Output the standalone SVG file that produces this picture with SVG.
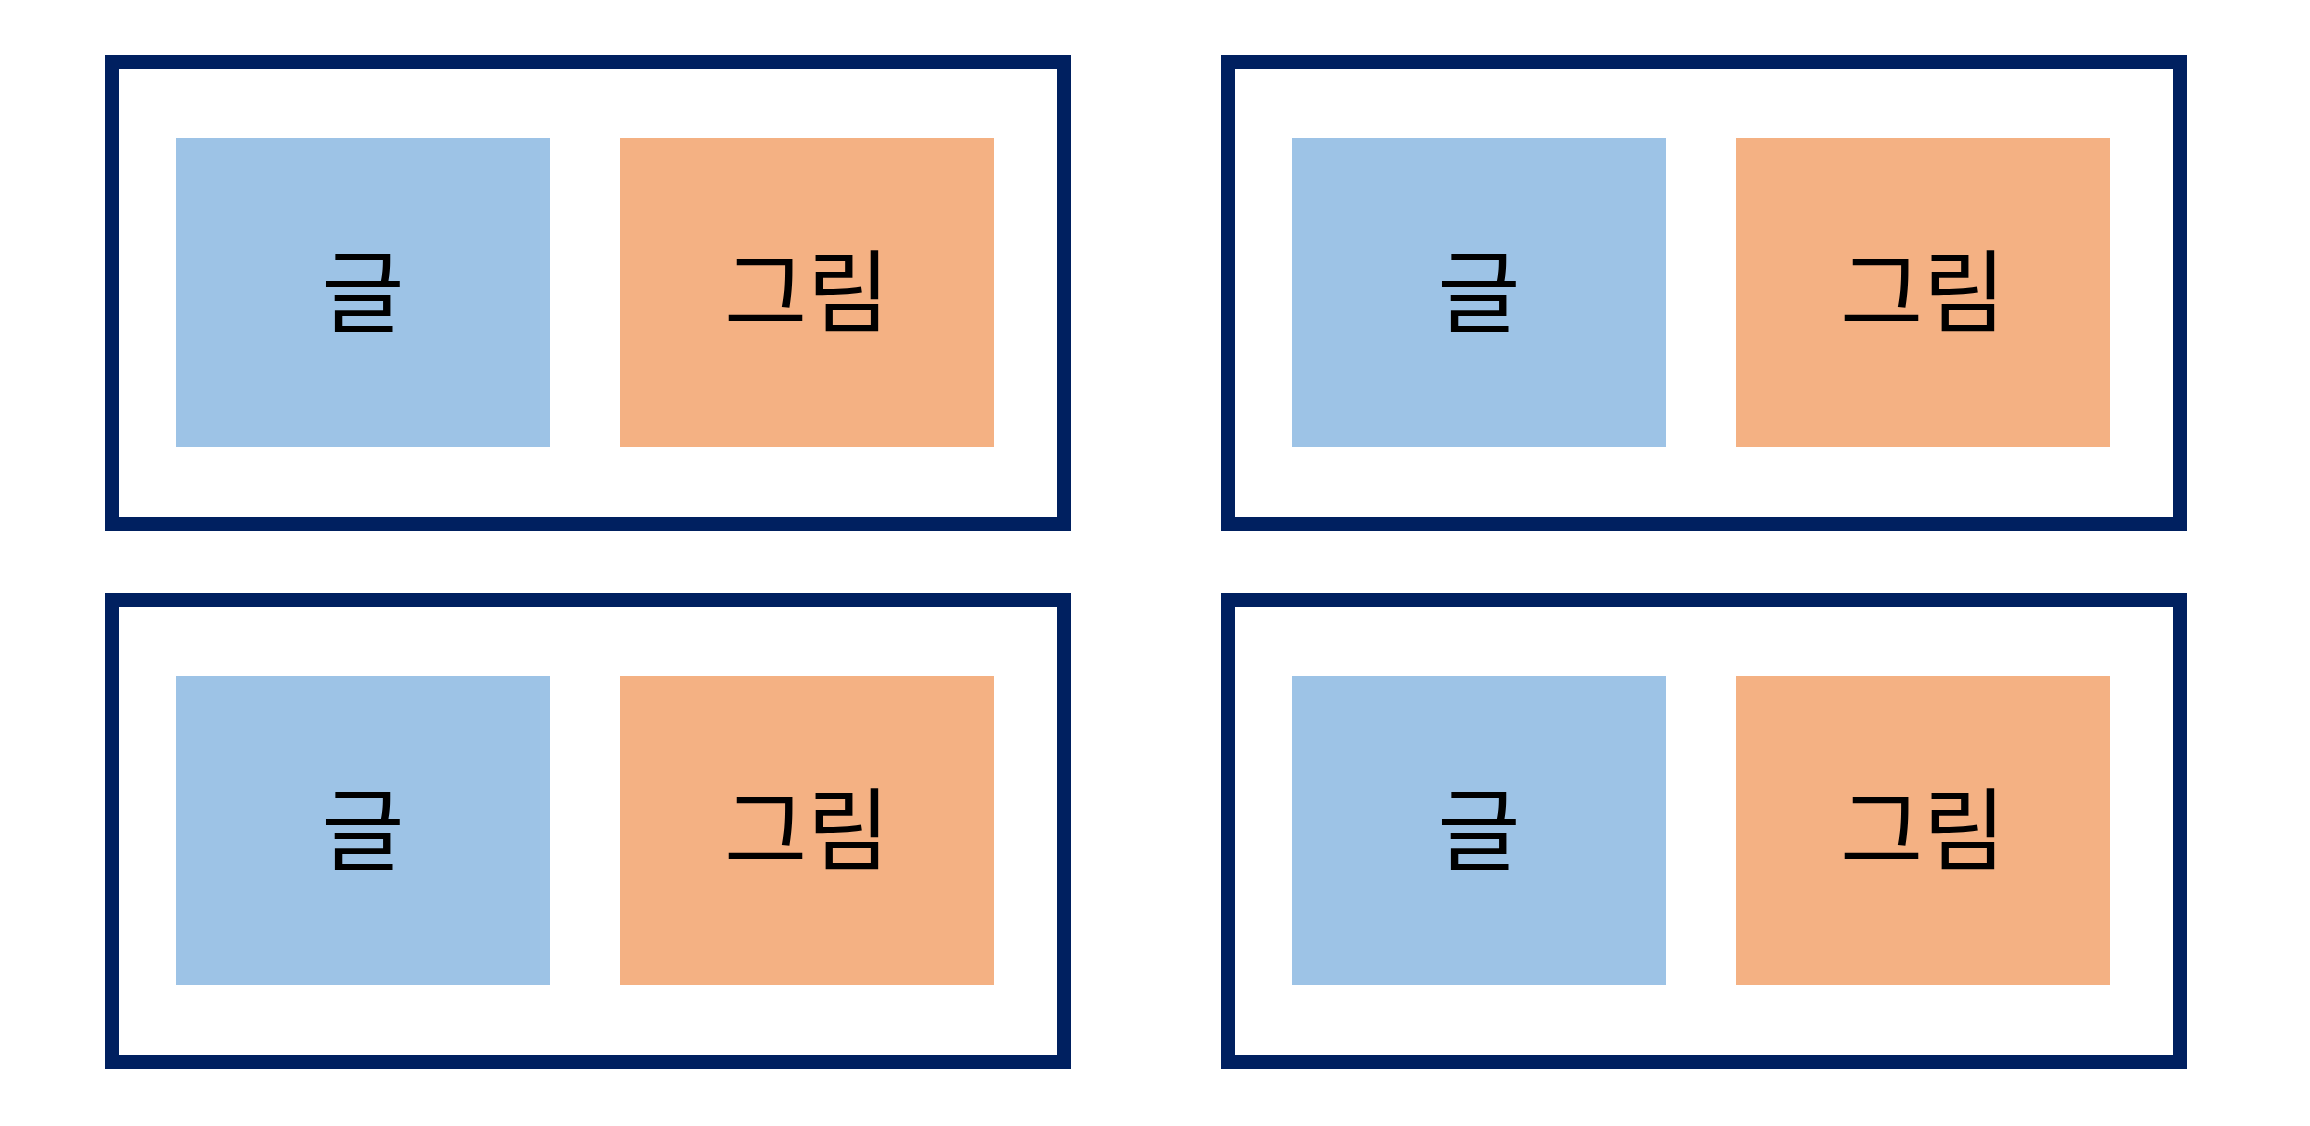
<svg xmlns="http://www.w3.org/2000/svg" width="2310" height="1126" viewBox="0 0 2310 1126">
<style>
.frame{fill:none;stroke:#002060;stroke-width:14}
.txt{fill:#9DC3E6}
.pic{fill:#F4B183}
.lbl{font-family:"Noto Sans CJK KR","Noto Sans CJK SC",sans-serif;font-size:90px;fill:#000;text-anchor:middle;dominant-baseline:central}
</style>
<rect width="2310" height="1126" fill="#fff"/>
<g id="panel1">
<rect class="frame" x="112" y="62" width="952" height="462"/>
<rect class="txt" x="176" y="138" width="374" height="309"/>
<text class="lbl" x="363" y="286">글</text>
<rect class="pic" x="620" y="138" width="374" height="309"/>
<text class="lbl" x="807" y="286">그림</text>
</g>
<g id="panel2">
<rect class="frame" x="1228" y="62" width="952" height="462"/>
<rect class="txt" x="1292" y="138" width="374" height="309"/>
<text class="lbl" x="1479" y="286">글</text>
<rect class="pic" x="1736" y="138" width="374" height="309"/>
<text class="lbl" x="1923" y="286">그림</text>
</g>
<g id="panel3">
<rect class="frame" x="112" y="600" width="952" height="462"/>
<rect class="txt" x="176" y="676" width="374" height="309"/>
<text class="lbl" x="363" y="824">글</text>
<rect class="pic" x="620" y="676" width="374" height="309"/>
<text class="lbl" x="807" y="824">그림</text>
</g>
<g id="panel4">
<rect class="frame" x="1228" y="600" width="952" height="462"/>
<rect class="txt" x="1292" y="676" width="374" height="309"/>
<text class="lbl" x="1479" y="824">글</text>
<rect class="pic" x="1736" y="676" width="374" height="309"/>
<text class="lbl" x="1923" y="824">그림</text>
</g>
<g id="connectors"/>
</svg>
